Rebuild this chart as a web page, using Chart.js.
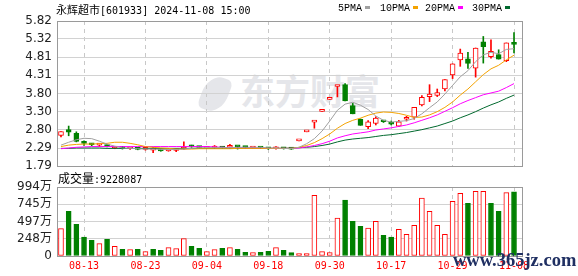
<!DOCTYPE html>
<html>
<head>
<meta charset="utf-8">
<script src="https://cdn.jsdelivr.net/npm/chart.js@4.4.0/dist/chart.umd.min.js"></script>
<style>
  body { margin: 0; background: #fff; }
  #wrap { position: relative; width: 578px; height: 276px; overflow: hidden; }
  canvas { position: absolute; left: 0; z-index: 1; }
  #kline { top: 0; }
  #vol { top: 170px; }
  .mono { font-family: 'DejaVu Sans Mono', monospace; font-size: 10px; }
  .cn { font-family: 'Noto Sans CJK SC', sans-serif; }
  #title { position: absolute; left: 56px; top: 2px; line-height: 14px; color: #000; z-index: 2; white-space: nowrap; }
  #title .cn { font-size: 11px; }
  .lg { position: absolute; top: 3px; line-height: 12px; font-family: 'Liberation Mono', monospace; font-size: 10px; color: #000; z-index: 2; white-space: nowrap; }
  .lg i { display: inline-block; width: 5px; height: 3px; margin-left: 3px; vertical-align: 2px; }
  #volLabel { position: absolute; left: 58px; top: 171px; line-height: 14px; color: #000; z-index: 2; white-space: nowrap; }
  #volLabel .cn { font-size: 12px; }
  #brand { position: absolute; left: 198px; top: 72px; z-index: 0; color: #e5e6ea; white-space: nowrap; }
  #brand .leaf { position: absolute; left: 4px; top: 4px; width: 26px; height: 36px; background: #e5e6ea; border-radius: 60% 20% 60% 20%; transform: rotate(20deg); }
  #brand .txt { position: absolute; left: 42px; top: -4px; font-size: 35px; font-weight: bold; line-height: 44px; }
  #site { position: absolute; left: 453px; top: 250px; font-family: 'Liberation Serif', serif; font-weight: bold; font-size: 18.5px; line-height: 20px; color: #1f2f62; z-index: 3; white-space: nowrap; }
</style>
</head>
<body>
<div id="wrap">
  <div id="brand"><div class="leaf"></div><div class="txt cn">东方财富</div></div>
  <canvas id="kline" width="578" height="190"></canvas>
  <canvas id="vol" width="578" height="106"></canvas>
  <div id="title" class="mono"><span class="cn">永辉超市</span>[601933] 2024-11-08 15:00</div>
  <div class="lg" style="left:338px">5PMA<i style="background:#a0a0a0"></i></div>
  <div class="lg" style="left:380px">10PMA<i style="background:#f4a300"></i></div>
  <div class="lg" style="left:425px">20PMA<i style="background:#ff00ff"></i></div>
  <div class="lg" style="left:472px">30PMA<i style="background:#00692e"></i></div>
  <div id="volLabel" class="mono"><span class="cn">成交量</span>:9228087</div>
  <div id="site">www.365jz.com</div>
</div>
<script>
const days = ['08-08', '08-09', '08-12', '08-13', '08-14', '08-15', '08-16', '08-19', '08-20', '08-21',
    '08-22', '08-23', '08-26', '08-27', '08-28', '08-29', '08-30', '09-02', '09-03', '09-04',
    '09-05', '09-06', '09-09', '09-10', '09-11', '09-12', '09-13', '09-18', '09-19', '09-20',
    '09-23', '09-24', '09-25', '09-26', '09-27', '09-30', '10-08', '10-09', '10-10', '10-11',
    '10-14', '10-15', '10-16', '10-17', '10-18', '10-21', '10-22', '10-23', '10-24', '10-25',
    '10-28', '10-29', '10-30', '10-31', '11-01', '11-04', '11-05', '11-06', '11-07', '11-08'];

const openP = [2.64, 2.80, 2.70, 2.44, 2.40, 2.37, 2.37, 2.29, 2.30, 2.27,
    2.28, 2.25, 2.23, 2.25, 2.21, 2.22, 2.26, 2.36, 2.31, 2.28,
    2.29, 2.31, 2.31, 2.33, 2.31, 2.29, 2.30, 2.28, 2.27, 2.28,
    2.27, 2.49, 2.74, 3.01, 3.31, 3.64, 4.00, 4.05, 3.47, 3.09,
    2.88, 2.97, 3.03, 3.01, 2.90, 3.09, 3.15, 3.49, 3.72, 3.75,
    3.93, 4.32, 4.74, 4.77, 4.51, 5.24, 4.83, 4.89, 4.72, 5.21];
const highP = [2.75, 2.90, 2.74, 2.49, 2.42, 2.41, 2.38, 2.31, 2.31, 2.30,
    2.29, 2.27, 2.31, 2.26, 2.24, 2.25, 2.46, 2.37, 2.33, 2.30,
    2.36, 2.32, 2.39, 2.34, 2.32, 2.31, 2.31, 2.29, 2.33, 2.29,
    2.28, 2.49, 2.74, 3.01, 3.31, 3.64, 4.00, 4.08, 3.53, 3.10,
    3.05, 3.16, 3.05, 3.04, 3.06, 3.17, 3.42, 3.75, 4.05, 3.93,
    4.19, 4.63, 5.04, 4.95, 5.07, 5.39, 5.30, 5.02, 5.21, 5.50];
const lowP = [2.60, 2.63, 2.46, 2.36, 2.35, 2.33, 2.32, 2.27, 2.26, 2.25,
    2.24, 2.23, 2.16, 2.20, 2.20, 2.19, 2.25, 2.31, 2.29, 2.27,
    2.28, 2.28, 2.27, 2.26, 2.29, 2.28, 2.28, 2.25, 2.26, 2.26,
    2.25, 2.49, 2.74, 2.84, 3.31, 3.64, 3.71, 3.60, 3.24, 2.92,
    2.83, 2.93, 3.00, 2.93, 2.88, 3.04, 3.09, 3.46, 3.58, 3.72,
    3.88, 4.22, 4.56, 4.50, 4.26, 4.65, 4.79, 4.76, 4.69, 4.93];
const closeP = [2.75, 2.73, 2.47, 2.42, 2.38, 2.38, 2.33, 2.30, 2.28, 2.28,
    2.25, 2.26, 2.25, 2.21, 2.23, 2.24, 2.30, 2.32, 2.30, 2.29,
    2.31, 2.29, 2.33, 2.32, 2.30, 2.30, 2.29, 2.27, 2.28, 2.27,
    2.26, 2.49, 2.74, 3.01, 3.31, 3.64, 4.00, 3.60, 3.24, 2.92,
    3.02, 3.12, 3.02, 2.95, 3.02, 3.13, 3.42, 3.70, 3.79, 3.83,
    4.19, 4.63, 4.93, 4.64, 5.07, 5.11, 4.98, 4.76, 5.21, 5.17];

const ma5 = [2.37, 2.45, 2.52, 2.56, 2.55, 2.48, 2.40, 2.34, 2.29, 2.28,
    2.27, 2.26, 2.26, 2.25, 2.25, 2.25, 2.26, 2.28, 2.30, 2.30,
    2.30, 2.30, 2.30, 2.31, 2.31, 2.31, 2.31, 2.29, 2.29, 2.28,
    2.27, 2.31, 2.41, 2.55, 2.76, 3.04, 3.34, 3.51, 3.56, 3.48,
    3.36, 3.18, 3.06, 3.01, 3.03, 3.05, 3.11, 3.24, 3.41, 3.57,
    3.79, 4.03, 4.27, 4.44, 4.69, 4.88, 4.95, 4.91, 5.03, 5.05];
const ma10 = [2.33, 2.37, 2.39, 2.40, 2.40, 2.41, 2.42, 2.45, 2.45, 2.42,
    2.38, 2.33, 2.31, 2.29, 2.28, 2.26, 2.26, 2.26, 2.27, 2.27,
    2.27, 2.27, 2.27, 2.28, 2.28, 2.28, 2.28, 2.28, 2.28, 2.28,
    2.28, 2.31, 2.36, 2.44, 2.55, 2.68, 2.84, 2.97, 3.06, 3.12,
    3.20, 3.26, 3.29, 3.28, 3.25, 3.20, 3.14, 3.15, 3.21, 3.30,
    3.42, 3.57, 3.76, 3.93, 4.13, 4.33, 4.49, 4.59, 4.74, 4.87];
const ma20 = [2.27, 2.29, 2.31, 2.32, 2.33, 2.33, 2.33, 2.33, 2.33, 2.33,
    2.33, 2.33, 2.33, 2.33, 2.33, 2.33, 2.33, 2.33, 2.33, 2.33,
    2.32, 2.31, 2.30, 2.30, 2.29, 2.29, 2.29, 2.28, 2.28, 2.28,
    2.28, 2.29, 2.32, 2.36, 2.41, 2.48, 2.57, 2.63, 2.68, 2.71,
    2.74, 2.79, 2.82, 2.85, 2.89, 2.93, 2.99, 3.06, 3.13, 3.21,
    3.31, 3.41, 3.52, 3.61, 3.69, 3.77, 3.82, 3.87, 3.97, 4.08];
const ma30 = [2.28, 2.28, 2.29, 2.29, 2.29, 2.29, 2.28, 2.28, 2.28, 2.28,
    2.28, 2.28, 2.28, 2.28, 2.28, 2.28, 2.28, 2.28, 2.28, 2.28,
    2.28, 2.28, 2.28, 2.28, 2.28, 2.28, 2.28, 2.28, 2.28, 2.28,
    2.29, 2.30, 2.31, 2.33, 2.36, 2.40, 2.46, 2.51, 2.54, 2.56,
    2.58, 2.61, 2.64, 2.66, 2.69, 2.72, 2.76, 2.80, 2.85, 2.90,
    2.97, 3.04, 3.13, 3.21, 3.30, 3.40, 3.49, 3.57, 3.67, 3.76];

// volume in 万, volUp = 1 for red bars
const volume = [394, 643, 456, 274, 226, 178, 240, 140, 96, 92,
    96, 63, 96, 82, 121, 106, 250, 140, 111, 63,
    92, 111, 121, 96, 53, 49, 53, 68, 121, 82,
    49, 35, 35, 874, 63, 49, 547, 806, 500, 428,
    403, 500, 298, 274, 384, 312, 442, 835, 643, 442,
    312, 788, 903, 759, 932, 932, 759, 643, 913, 922.8];
const volUp = [1, 0, 0, 0, 0, 1, 0, 1, 0, 1,
    0, 1, 0, 0, 1, 1, 1, 0, 0, 1,
    1, 0, 1, 0, 0, 1, 0, 0, 1, 0,
    0, 1, 1, 1, 1, 1, 1, 0, 0, 0,
    1, 1, 0, 0, 1, 1, 1, 1, 1, 1,
    1, 1, 1, 0, 1, 1, 0, 0, 1, 0];

const tickIdx = [3, 11, 19, 27, 35, 43, 51, 59];
const priceTicks = [1.79, 2.29, 2.80, 3.30, 3.80, 4.31, 4.81, 5.32, 5.82];
const volTicks = [0, 248.5, 497, 745.5, 994];
const volTickLabels = ['0', '248万', '497万', '745万', '994万'];

const RED = '#ff0000';
const GREEN = '#008000';

Chart.defaults.font.family = "'DejaVu Sans', 'Noto Sans CJK SC', sans-serif";

// outline round the plot area
const frame = {
    id: 'frame',
    afterDraw(chart) {
        const { ctx, chartArea: a } = chart;
        ctx.save();
        ctx.strokeStyle = '#9a9a9a';
        ctx.lineWidth = 1;
        ctx.strokeRect(Math.round(a.left) + 0.5, Math.round(a.top) + 0.5,
            Math.round(a.right - a.left), Math.round(a.bottom - a.top));
        ctx.restore();
    }
};

function xScale(showLabels) {
    return {
        type: 'linear',
        min: -0.52,
        max: 60.04,
        offset: false,
        afterBuildTicks: s => { s.ticks = tickIdx.map(v => ({ value: v })); },
        afterFit: s => { s.height = showLabels ? 16 : 0; },
        ticks: {
            display: showLabels,
            autoSkip: false,
            maxRotation: 0,
            padding: 4,
            color: RED,
            font: { family: "'DejaVu Sans Mono', monospace", size: 10 },
            callback: v => days[v]
        },
        grid: { color: '#c8c8c8', drawTicks: false, offset: false },
        border: { display: false, dash: [4, 4] }
    };
}

function maLine(values, color) {
    return {
        type: 'line',
        data: values.map((v, i) => ({ x: i, y: v })),
        borderColor: color,
        borderWidth: 1,
        pointRadius: 0,
        tension: 0
    };
}

const isUp = days.map((d, i) => closeP[i] >= openP[i]);

new Chart(document.getElementById('kline'), {
    type: 'bar',
    data: {
        datasets: [
            maLine(ma5, '#a0a0a0'),
            maLine(ma10, '#f4a300'),
            maLine(ma20, '#ff00ff'),
            maLine(ma30, '#00692e'),
            {
                data: days.map((d, i) => ({ x: i, y: [openP[i], closeP[i]] })),
                backgroundColor: isUp.map(u => u ? '#ffffff' : GREEN),
                borderColor: isUp.map(u => u ? RED : GREEN),
                borderWidth: 1,
                borderSkipped: false,
                barThickness: 5,
                minBarLength: 2,
                grouped: false
            },
            {
                data: days.map((d, i) => ({ x: i, y: [lowP[i], highP[i]] })),
                backgroundColor: isUp.map(u => u ? RED : GREEN),
                borderWidth: 0,
                barThickness: 1,
                grouped: false
            }
        ]
    },
    options: {
        responsive: false,
        animation: false,
        events: [],
        layout: { padding: { top: 21, right: 56, bottom: 24, left: 0 } },
        plugins: { legend: { display: false }, tooltip: { enabled: false } },
        scales: {
            x: xScale(false),
            y: {
                min: 1.79,
                max: 5.82,
                beginAtZero: false,
                afterBuildTicks: s => { s.ticks = priceTicks.map(v => ({ value: v })); },
                afterFit: s => { s.width = 57; },
                ticks: { autoSkip: false, padding: 5, color: '#222', font: { size: 12 }, callback: v => v.toFixed(2) },
                grid: { color: '#d2d2d2', drawTicks: false },
                border: { display: false }
            }
        }
    },
    plugins: [frame]
});

new Chart(document.getElementById('vol'), {
    type: 'bar',
    data: {
        datasets: [{
            data: days.map((d, i) => ({ x: i, y: volume[i] })),
            backgroundColor: volUp.map(u => u ? '#ffffff' : GREEN),
            borderColor: volUp.map(u => u ? RED : GREEN),
            borderWidth: 1,
            borderSkipped: false,
            barThickness: 5,
            grouped: false
        }]
    },
    options: {
        responsive: false,
        animation: false,
        events: [],
        layout: { padding: { top: 17, right: 56, bottom: 4, left: 0 } },
        plugins: { legend: { display: false }, tooltip: { enabled: false } },
        scales: {
            x: xScale(true),
            y: {
                min: 0,
                max: 994,
                afterBuildTicks: s => { s.ticks = volTicks.map(v => ({ value: v })); },
                afterFit: s => { s.width = 57; },
                ticks: { autoSkip: false, padding: 5, color: '#222', font: { size: 12 }, callback: (v, i) => volTickLabels[i] },
                grid: { color: '#d2d2d2', drawTicks: false },
                border: { display: false }
            }
        }
    },
    plugins: [frame]
});
</script>
</body>
</html>
